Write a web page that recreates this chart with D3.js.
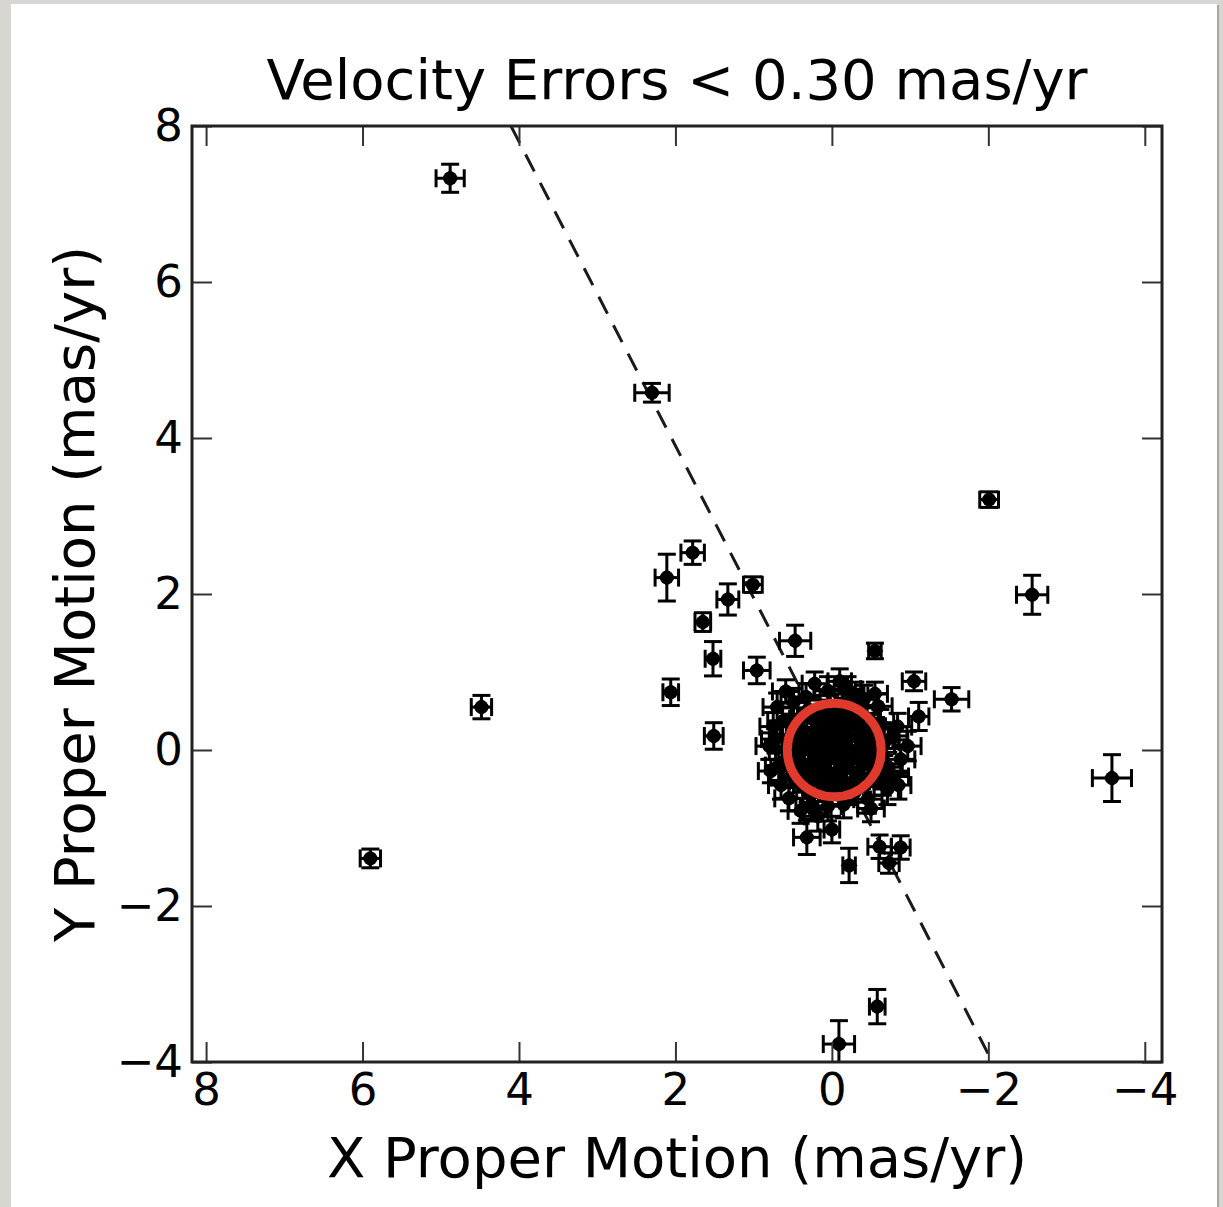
<!DOCTYPE html>
<html>
<head>
<meta charset="utf-8">
<script src="https://cdn.jsdelivr.net/npm/d3@7"></script>
<style>
html,body{margin:0;padding:0;background:#d7d6d2;}
svg{display:block;}
text{font-family:"DejaVu Sans",sans-serif;fill:#000;}
</style>
</head>
<body>
<svg id="chart" width="1223" height="1207"></svg>
<script>
// ---- data ----
const titleText = "Velocity Errors < 0.30 mas/yr";
const xLabelText = "X Proper Motion (mas/yr)";
const yLabelText = "Y Proper Motion (mas/yr)";
const xTicks = [8, 6, 4, 2, 0, -2, -4];
const yTicks = [-4, -2, 0, 2, 4, 6, 8];
const xDomain = [8.18, -4.22];
const yDomain = [-4, 8];

// isolated stars: [x, y, xerr, yerr] (mas/yr)
const outlierStars = [
  [4.88, 7.33, 0.18, 0.18], [2.30, 4.58, 0.22, 0.12], [-2.01, 3.21, 0.12, 0.10],
  [-2.56, 1.99, 0.20, 0.25], [2.11, 2.21, 0.15, 0.30], [1.78, 2.53, 0.15, 0.15],
  [1.01, 2.12, 0.12, 0.10], [1.33, 1.93, 0.14, 0.20], [1.65, 1.64, 0.10, 0.12],
  [1.52, 1.17, 0.10, 0.22], [0.96, 1.02, 0.17, 0.17], [0.47, 1.40, 0.20, 0.20],
  [-0.55, 1.27, 0.08, 0.10], [2.06, 0.74, 0.10, 0.17], [4.48, 0.55, 0.13, 0.15],
  [1.51, 0.18, 0.12, 0.17], [-1.05, 0.88, 0.15, 0.12], [-1.53, 0.65, 0.22, 0.15],
  [-1.11, 0.43, 0.13, 0.18], [5.90, -1.39, 0.13, 0.12], [-3.58, -0.36, 0.25, 0.30],
  [-0.58, -3.29, 0.10, 0.22], [-0.09, -3.77, 0.20, 0.30], [-0.22, -1.48, 0.08, 0.22],
  [0.32, -1.12, 0.17, 0.22], [0.00, -1.02, 0.10, 0.17], [-0.61, -1.24, 0.15, 0.15],
  [-0.88, -1.25, 0.12, 0.15], [-0.73, -1.45, 0.13, 0.13], [0.24, -0.76, 0.15, 0.15]
];

// stars around the dense core: [x, y, xerr, yerr]
const haloStars = [
  [0.59, 0.75, 0.17, 0.15], [0.05, 0.76, 0.18, 0.18], [-0.20, 0.78, 0.17, 0.16],
  [0.63, 0.37, 0.19, 0.17], [0.72, 0.14, 0.18, 0.18], [0.68, -0.20, 0.17, 0.19],
  [0.78, -0.27, 0.16, 0.15], [-0.84, 0.30, 0.18, 0.17], [-0.97, 0.05, 0.17, 0.19],
  [-0.88, -0.12, 0.18, 0.18], [-0.79, -0.34, 0.19, 0.16], [-0.71, -0.50, 0.17, 0.20],
  [-0.46, -0.63, 0.18, 0.18], [0.27, -0.72, 0.19, 0.17], [0.18, -0.85, 0.17, 0.19],
  [0.49, 0.61, 0.16, 0.18], [0.33, 0.68, 0.18, 0.17], [-0.59, 0.56, 0.18, 0.16],
  [-0.41, 0.65, 0.17, 0.18], [-0.67, 0.10, 0.19, 0.17], [0.65, -0.45, 0.16, 0.18],
  [0.55, -0.62, 0.18, 0.16], [-0.62, 0.35, 0.17, 0.17], [-0.72, -0.22, 0.18, 0.19],
  [-0.30, 0.70, 0.16, 0.17], [0.70, 0.55, 0.18, 0.18], [-0.65, -0.40, 0.17, 0.18],
  [-0.15, -0.70, 0.18, 0.17], [0.05, -0.72, 0.17, 0.19], [-0.78, 0.18, 0.18, 0.16],
  [0.75, 0.30, 0.17, 0.18], [0.80, 0.05, 0.17, 0.17], [-0.85, -0.45, 0.16, 0.18],
  [-0.50, -0.75, 0.17, 0.17], [0.40, -0.78, 0.16, 0.16], [-0.10, 0.88, 0.15, 0.16],
  [0.22, 0.85, 0.16, 0.15], [-0.55, 0.72, 0.16, 0.15]
];

const coreStars = [
  [0.00, 0.00, 0.14, 0.14], [0.10, 0.05, 0.13, 0.15], [-0.10, 0.08, 0.14, 0.13],
  [0.05, -0.12, 0.15, 0.14], [-0.08, -0.10, 0.14, 0.14], [0.20, 0.15, 0.13, 0.14],
  [-0.20, 0.18, 0.14, 0.15], [0.22, -0.18, 0.14, 0.13], [-0.18, -0.22, 0.15, 0.14],
  [0.30, 0.02, 0.14, 0.14], [-0.30, -0.03, 0.13, 0.14], [0.02, 0.30, 0.14, 0.15],
  [-0.04, -0.31, 0.14, 0.14], [0.38, 0.25, 0.15, 0.14], [-0.36, 0.27, 0.14, 0.14],
  [0.35, -0.28, 0.14, 0.15], [-0.33, -0.30, 0.14, 0.14], [0.45, -0.05, 0.15, 0.14],
  [-0.46, 0.06, 0.14, 0.15], [0.06, 0.45, 0.14, 0.14], [-0.02, -0.46, 0.15, 0.14],
  [0.25, 0.40, 0.14, 0.14], [-0.27, 0.41, 0.14, 0.14], [0.28, -0.42, 0.14, 0.15],
  [-0.24, -0.43, 0.14, 0.14], [0.48, 0.20, 0.15, 0.14], [-0.50, -0.18, 0.14, 0.14],
  [0.50, -0.22, 0.14, 0.14], [-0.48, 0.22, 0.14, 0.15], [0.15, 0.50, 0.14, 0.14],
  [-0.14, 0.52, 0.14, 0.14], [0.13, -0.52, 0.15, 0.14], [-0.16, -0.50, 0.14, 0.14],
  [0.12, 0.22, 0.14, 0.14], [-0.12, 0.28, 0.14, 0.14], [0.16, -0.30, 0.14, 0.14],
  [-0.25, -0.12, 0.14, 0.14], [0.33, 0.12, 0.14, 0.14], [-0.38, 0.12, 0.14, 0.14],
  [0.40, -0.15, 0.14, 0.14], [-0.40, -0.18, 0.14, 0.14], [0.08, 0.15, 0.14, 0.14],
  [-0.05, 0.40, 0.14, 0.14], [0.05, -0.38, 0.14, 0.14], [0.55, 0.05, 0.14, 0.14],
  [-0.55, -0.04, 0.14, 0.14], [0.02, 0.56, 0.14, 0.14], [0.00, -0.56, 0.14, 0.14],
  [0.40, 0.40, 0.14, 0.14], [-0.40, 0.40, 0.14, 0.14], [0.40, -0.40, 0.14, 0.14],
  [-0.40, -0.40, 0.14, 0.14], [0.52, 0.32, 0.14, 0.14], [-0.52, 0.32, 0.14, 0.14],
  [0.52, -0.34, 0.14, 0.14], [-0.52, -0.33, 0.14, 0.14], [0.30, 0.52, 0.14, 0.14],
  [-0.31, 0.52, 0.14, 0.14], [0.31, -0.53, 0.14, 0.14], [-0.30, -0.53, 0.14, 0.14],
  [0.58, -0.12, 0.14, 0.14], [-0.58, 0.14, 0.14, 0.14], [0.18, 0.36, 0.14, 0.14],
  [-0.20, 0.35, 0.14, 0.14], [0.21, -0.06, 0.14, 0.14], [-0.21, 0.02, 0.14, 0.14],
  [0.08, -0.24, 0.14, 0.14], [-0.12, -0.38, 0.14, 0.14], [0.26, -0.30, 0.14, 0.14],
  [0.44, 0.10, 0.14, 0.14], [-0.44, -0.08, 0.14, 0.14], [0.02, 0.20, 0.14, 0.14]
];

// reference line y = slope * x, and selection circle
const lineSlope = 1.95;
const circleCenter = [-0.03, 0.0];
const circleRadius = 0.6;

// ---- layout ----
const svg = d3.select("#chart");
const plot = {left: 192, right: 1162, top: 126, bottom: 1062};

// page card
svg.append("rect").attr("x", 0).attr("y", 0).attr("width", 1223).attr("height", 1207).attr("fill", "#d7d6d2");
svg.append("rect").attr("x", 12).attr("y", 5).attr("width", 1207).attr("height", 1210).attr("fill", "#a9a8a4");
svg.append("rect").attr("x", 11).attr("y", 4).attr("width", 1206).attr("height", 1210).attr("fill", "#ffffff");

const x = d3.scaleLinear().domain(xDomain).range([plot.left, plot.right]);
const y = d3.scaleLinear().domain(yDomain).range([plot.bottom, plot.top]);

svg.append("defs").append("clipPath").attr("id", "clip")
  .append("rect").attr("x", plot.left).attr("y", plot.top)
  .attr("width", plot.right - plot.left).attr("height", plot.bottom - plot.top);

const g = svg.append("g").attr("clip-path", "url(#clip)");

// dashed line
const yLo = yDomain[0], yHi = yDomain[1];
g.append("line")
  .attr("x1", x(yHi / lineSlope)).attr("y1", y(yHi))
  .attr("x2", x(yLo / lineSlope)).attr("y2", y(yLo))
  .attr("stroke", "#1a1a1a").attr("stroke-width", 3)
  .attr("stroke-dasharray", "19,13");

const allStars = outlierStars.concat(haloStars, coreStars);
const cap = 9;
const eb = g.append("g").attr("stroke", "#000").attr("stroke-width", 3).attr("fill", "none");
allStars.forEach(d => {
  const [px, py, ex, ey] = d;
  const cx = x(px), cy = y(py);
  const x0 = x(px + ex), x1 = x(px - ex);
  const y0 = y(py + ey), y1 = y(py - ey);
  eb.append("line").attr("x1", x0).attr("x2", x1).attr("y1", cy).attr("y2", cy);
  eb.append("line").attr("x1", cx).attr("x2", cx).attr("y1", y0).attr("y2", y1);
  eb.append("line").attr("x1", x0).attr("x2", x0).attr("y1", cy - cap).attr("y2", cy + cap);
  eb.append("line").attr("x1", x1).attr("x2", x1).attr("y1", cy - cap).attr("y2", cy + cap);
  eb.append("line").attr("x1", cx - cap).attr("x2", cx + cap).attr("y1", y0).attr("y2", y0);
  eb.append("line").attr("x1", cx - cap).attr("x2", cx + cap).attr("y1", y1).attr("y2", y1);
});
// diamond-ish markers (matplotlib point + error bar joints)
g.append("g").selectAll("circle").data(allStars).join("circle")
  .attr("cx", d => x(d[0])).attr("cy", d => y(d[1])).attr("r", 7).attr("fill", "#000");
g.append("g").selectAll("path").data(allStars).join("path")
  .attr("transform", d => `translate(${x(d[0])},${y(d[1])}) rotate(45)`)
  .attr("d", "M-6,-6H6V6H-6Z").attr("fill", "#000");

// red circle
g.append("ellipse")
  .attr("cx", x(circleCenter[0])).attr("cy", y(circleCenter[1]))
  .attr("rx", Math.abs(x(circleRadius) - x(0))).attr("ry", Math.abs(y(circleRadius) - y(0)))
  .attr("fill", "none").attr("stroke", "#e03a2c").attr("stroke-width", 9);

// axes with inward ticks on all sides
const tickLen = 20;
const axB = d3.axisBottom(x).tickValues(xTicks).tickSizeInner(-tickLen).tickSizeOuter(0).tickPadding(11);
const axT = d3.axisTop(x).tickValues(xTicks).tickSizeInner(-tickLen).tickSizeOuter(0).tickFormat("");
const axL = d3.axisLeft(y).tickValues(yTicks).tickSizeInner(-tickLen).tickSizeOuter(0).tickPadding(9);
const axR = d3.axisRight(y).tickValues(yTicks).tickSizeInner(-tickLen).tickSizeOuter(0).tickFormat("");

function styleAxis(sel) {
  sel.select(".domain").remove();
  sel.selectAll(".tick line").attr("stroke", "#333").attr("stroke-width", 2);
  sel.selectAll(".tick text").attr("font-size", 45).attr("font-family", "DejaVu Sans").attr("fill", "#000");
}
svg.append("g").attr("transform", `translate(0,${plot.bottom})`).call(axB).call(styleAxis);
svg.append("g").attr("transform", `translate(0,${plot.top})`).call(axT).call(styleAxis);
svg.append("g").attr("transform", `translate(${plot.left},0)`).call(axL).call(styleAxis);
svg.append("g").attr("transform", `translate(${plot.right},0)`).call(axR).call(styleAxis);

// frame
svg.append("rect").attr("x", plot.left).attr("y", plot.top)
  .attr("width", plot.right - plot.left).attr("height", plot.bottom - plot.top)
  .attr("fill", "none").attr("stroke", "#222").attr("stroke-width", 3);

// texts
svg.append("text").attr("x", (plot.left + plot.right) / 2).attr("y", 99)
  .attr("text-anchor", "middle").attr("font-size", 56).text(titleText);
svg.append("text").attr("x", (plot.left + plot.right) / 2).attr("y", 1177)
  .attr("text-anchor", "middle").attr("font-size", 56).text(xLabelText);
svg.append("text").attr("transform", `translate(94,${(plot.top + plot.bottom) / 2}) rotate(-90)`)
  .attr("text-anchor", "middle").attr("font-size", 56).text(yLabelText);
</script>
</body>
</html>
